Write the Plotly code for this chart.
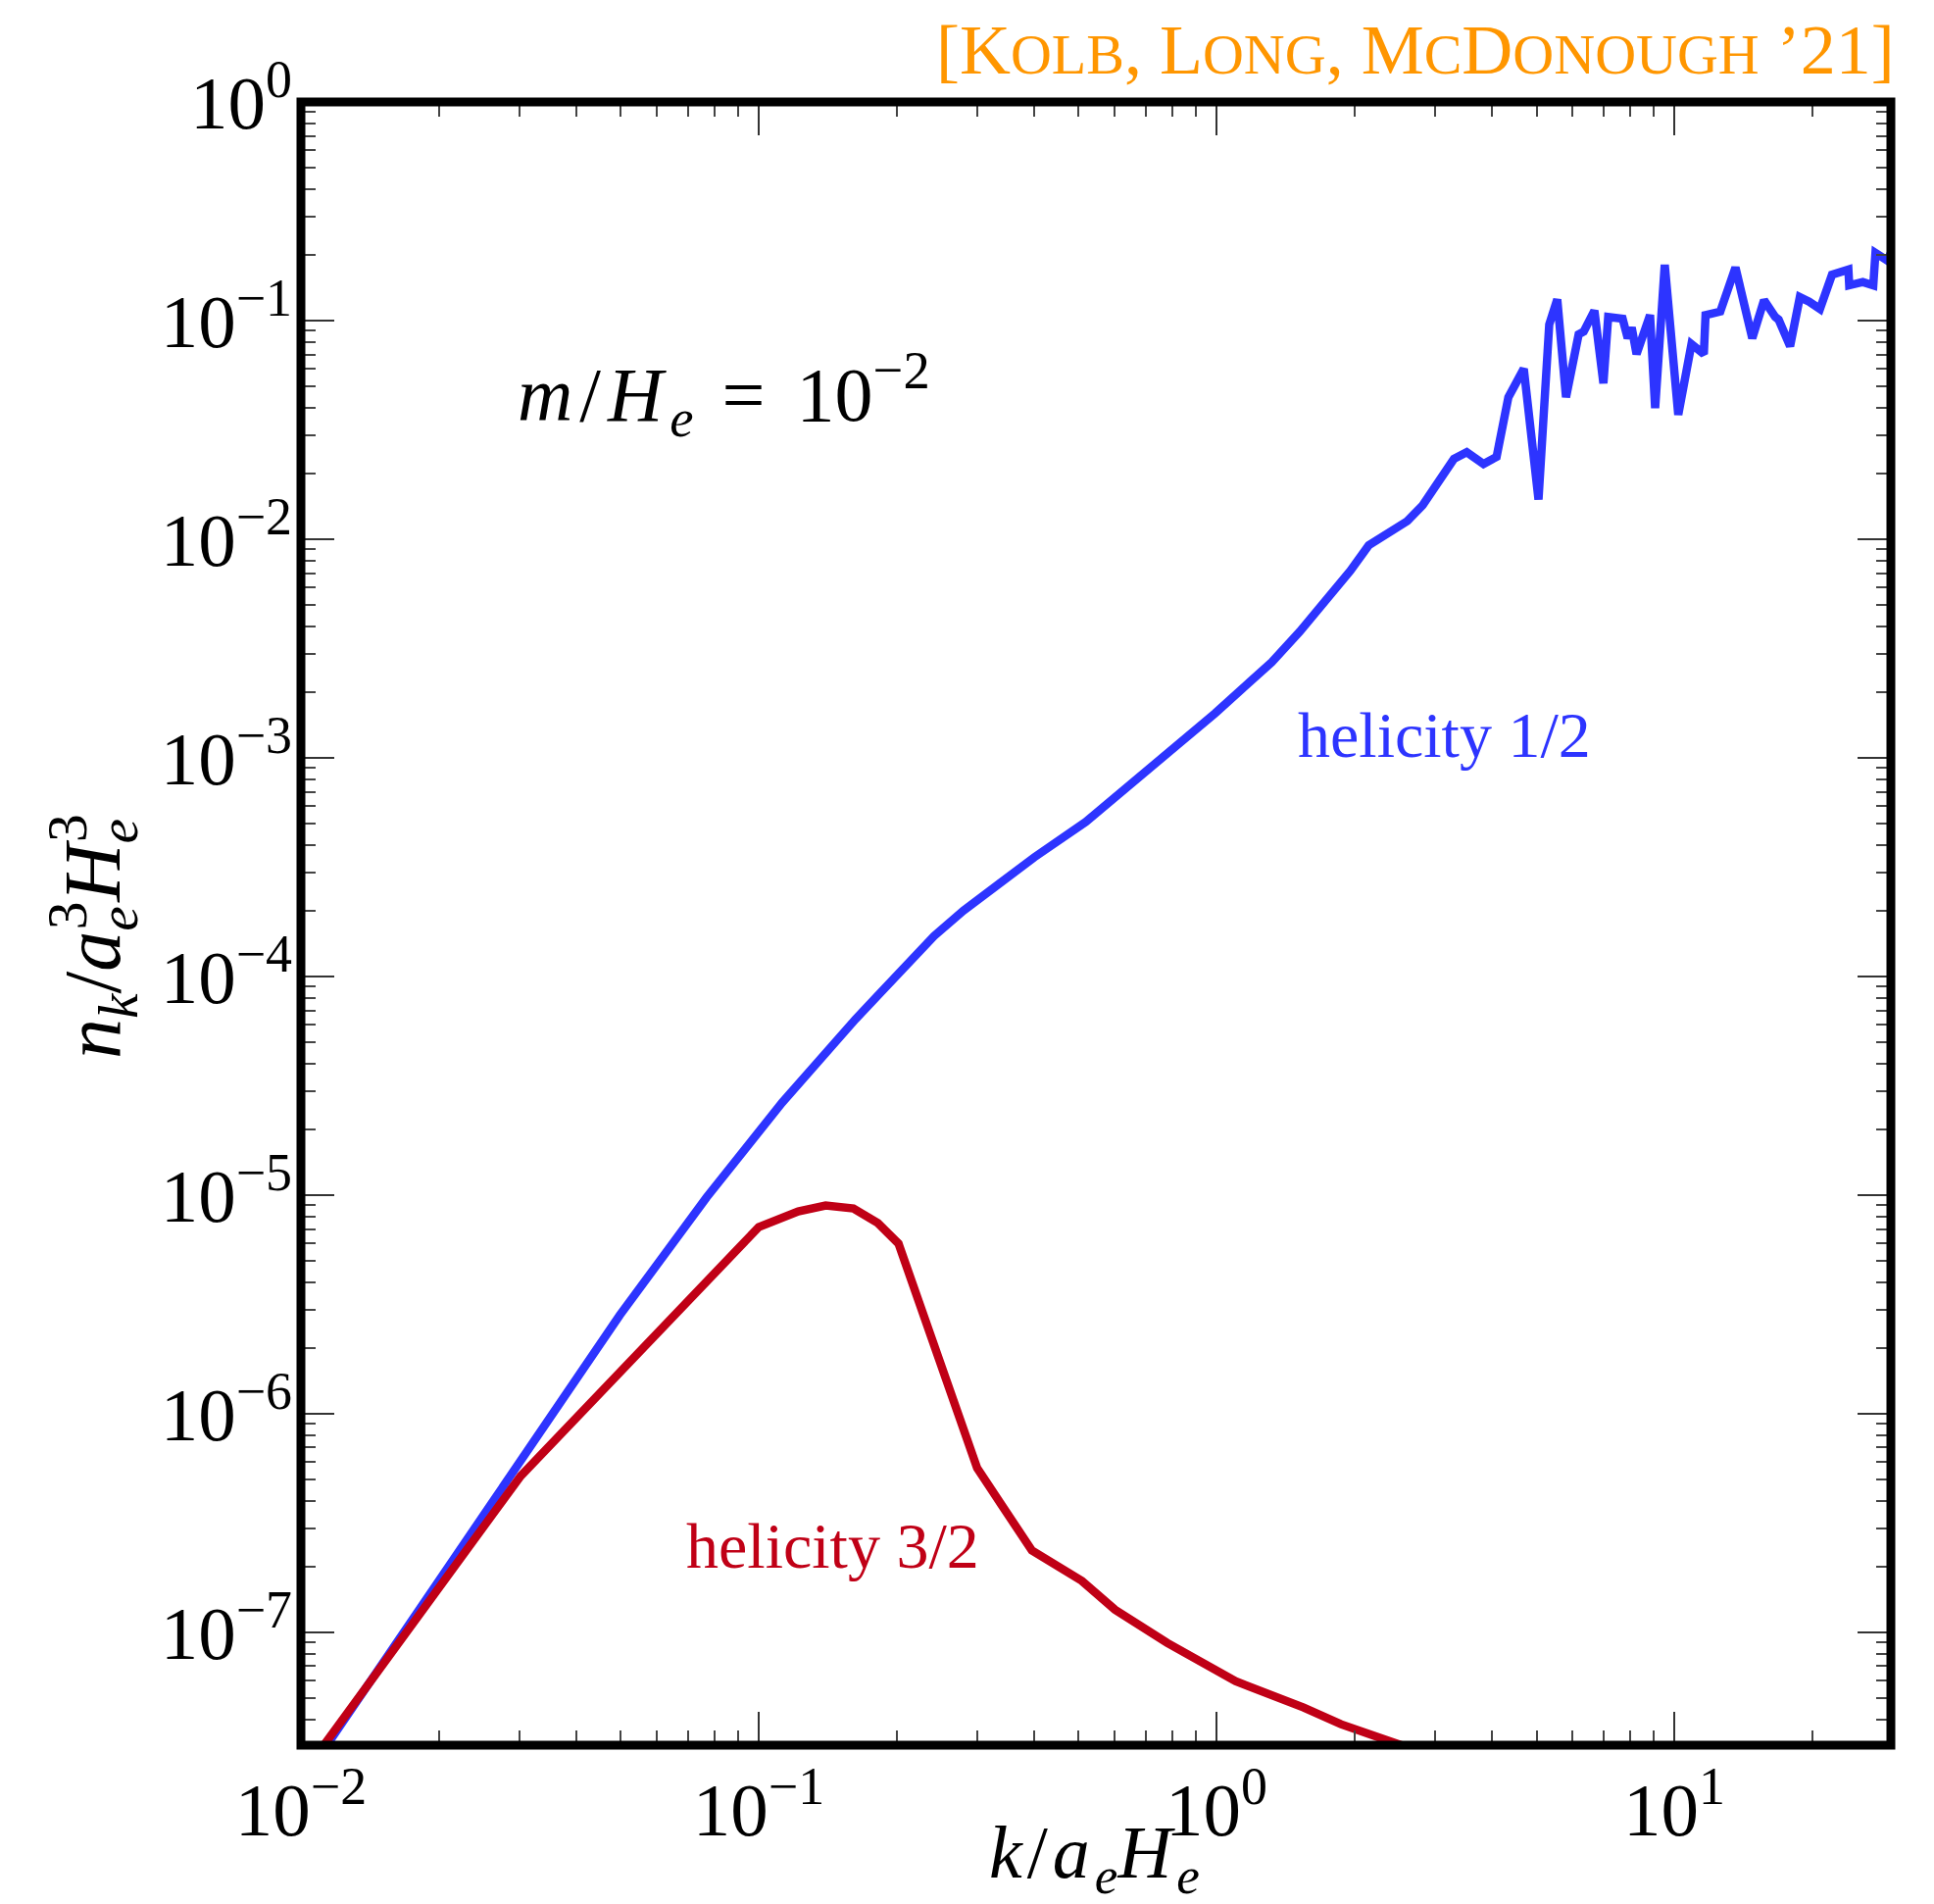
import plotly.graph_objects as go

# ---- data ----
k_h12 = [0.0100, 0.0283, 0.0497, 0.0769, 0.1125, 0.1627, 0.200, 0.2414, 0.280, 0.3213, 0.400, 0.518, 0.750,
         0.993, 1.32, 1.52, 1.96, 2.15, 2.61, 2.82, 3.30, 3.52, 3.83,
         4.09, 4.34, 4.69, 5.05, 5.33, 5.55, 5.80, 6.18, 6.34, 6.69,
         7.00, 7.17, 7.71, 7.91, 8.07, 8.27, 8.85, 9.08, 9.53, 10.2,
         10.9, 11.6, 11.7, 12.6, 13.6, 14.8, 15.7, 16.6, 16.9, 17.9,
         18.8, 19.7, 20.8, 22.1, 24.0, 24.1, 25.8, 27.2, 27.5, 29.2, 30.4]
n_h12 = [2.04e-8, 5.02e-7, 2.82e-6, 9.75e-6, 2.65e-5, 6.38e-5, 1.02e-4, 1.53e-4, 2.00e-4, 2.48e-4, 3.51e-4, 5.09e-4, 9.66e-4,
         1.60e-3, 2.74e-3, 3.78e-3, 7.17e-3, 9.38e-3, 1.21e-2, 1.43e-2, 2.33e-2, 2.50e-2, 2.21e-2,
         2.38e-2, 4.46e-2, 6.02e-2, 1.52e-2, 9.59e-2, 1.25e-1, 4.46e-2, 8.65e-2, 8.91e-2, 1.11e-1,
         5.16e-2, 1.04e-1, 1.02e-1, 8.30e-2, 9.29e-2, 7.03e-2, 1.06e-1, 3.98e-2, 1.80e-1, 3.71e-2,
         7.80e-2, 7.03e-2, 1.06e-1, 1.10e-1, 1.75e-1, 8.30e-2, 1.24e-1, 1.04e-1, 1.01e-1, 7.64e-2,
         1.28e-1, 1.22e-1, 1.13e-1, 1.62e-1, 1.71e-1, 1.45e-1, 1.50e-1, 1.45e-1, 2.04e-1, 1.88e-1, 2.26e-1]

k_h32 = [0.01, 0.0302, 0.100, 0.122, 0.140, 0.161, 0.182, 0.202, 0.300, 0.395,
         0.508, 0.600, 0.780, 0.890, 1.10, 1.55, 1.87, 2.55, 3.5]
n_h32 = [2.19e-8, 5.19e-7, 7.14e-6, 8.43e-6, 8.97e-6, 8.69e-6, 7.45e-6, 6.00e-6, 5.64e-7, 2.37e-7,
         1.72e-7, 1.27e-7, 8.95e-8, 7.67e-8, 5.98e-8, 4.53e-8, 3.80e-8, 3.03e-8, 2.30e-8]

x_tickvals = [0.01, 0.1, 1, 10]
x_ticktext = ["10<sup>−2</sup>", "10<sup>−1</sup>", "10<sup>0</sup>", "10<sup>1</sup>"]
y_tickvals = [1e-7, 1e-6, 1e-5, 1e-4, 1e-3, 1e-2, 1e-1, 1]
y_ticktext = ["10<sup>−7</sup>", "10<sup>−6</sup>", "10<sup>−5</sup>", "10<sup>−4</sup>",
              "10<sup>−3</sup>", "10<sup>−2</sup>", "10<sup>−1</sup>", "10<sup>0</sup>"]

BLUE = "rgb(45,52,255)"
RED = "rgb(192,0,22)"
ORANGE = "rgb(255,150,0)"
SERIF = "Liberation Serif"

x_minor = [m * 10.0 ** e for e in range(-2, 2) for m in range(2, 10)]
y_minor = [m * 10.0 ** e for e in range(-8, 0) for m in range(2, 10)]

fig = go.Figure()
fig.add_trace(go.Scatter(x=k_h12, y=n_h12, mode="lines",
                         line=dict(color=BLUE, width=8.5), showlegend=False))
fig.add_trace(go.Scatter(x=k_h32, y=n_h32, mode="lines",
                         line=dict(color=RED, width=8.5), showlegend=False))

axis_common = dict(
    type="log", showgrid=False, zeroline=False,
    showline=False, mirror="allticks",
    ticks="inside", ticklen=34, tickwidth=2, tickcolor="#333",
    tickfont=dict(family=SERIF, size=77, color="black"),
)

fig.update_xaxes(**axis_common, range=[-2, 1.473],
                 tickvals=x_tickvals, ticktext=x_ticktext, ticklabelstandoff=14,
                 minor=dict(tickvals=x_minor, ticks="inside", ticklen=15,
                            tickwidth=2, tickcolor="#444", showgrid=False))
fig.update_yaxes(**axis_common, range=[-7.516, 0],
                 tickvals=y_tickvals, ticktext=y_ticktext, ticklabelstandoff=8,
                 minor=dict(tickvals=y_minor, ticks="inside", ticklen=15,
                            tickwidth=2, tickcolor="#444", showgrid=False))

# frame centred on the plot-area edges (matplotlib style)
fig.add_shape(type="rect", xref="paper", yref="paper", x0=0, y0=0, x1=1, y1=1,
              line=dict(color="black", width=9), fillcolor="rgba(0,0,0,0)", layer="above")

sc = '<span style="font-size:58px">'
title = ("[K" + sc + "OLB</span>, L" + sc + "ONG</span>, M" + sc + "C</span>D"
         + sc + "ONOUGH</span> ’21]")

# stacked super/subscripts: the subscript gets negative letter-spacing so the
# superscript that follows sits right above it
stk = '<span style="letter-spacing:-24px"><i>e</i></span>'
ytitle = ("<i>n</i><sub><i>k</i></sub>/<i>a</i><sub>" + stk + "</sub><sup>3</sup>"
          "<i>H</i><sub>" + stk + "</sub><sup>3</sup>")

mlabel = ('<span style="letter-spacing:7px"><i>m</i>/<i>H</i></span><sub><i>e</i></sub>'
          '<span style="letter-spacing:3px">&#8196;=&#8196;</span>10<sup>−2</sup>')

xtitle = ('<span style="letter-spacing:5px"><i>k</i>/<i>a</i></span><sub><i>e</i></sub>'
          '<span style="letter-spacing:5px"><i>H</i></span><sub><i>e</i></sub>')

annotations = [
    dict(text=title, x=1.0037, y=1.0567, xref="paper", yref="paper",
         xanchor="right", yanchor="top", showarrow=False,
         font=dict(family=SERIF, size=72, color=ORANGE)),
    dict(text=xtitle,
         x=0.4988, y=-0.0686, xref="paper", yref="paper",
         xanchor="center", yanchor="middle", showarrow=False,
         font=dict(family=SERIF, size=76, color="black")),
    dict(text=ytitle,
         x=-0.1313, y=0.4922, xref="paper", yref="paper", textangle=-90,
         xanchor="center", yanchor="middle", showarrow=False,
         font=dict(family=SERIF, size=82, color="black")),
    dict(text=mlabel,
         x=0.135, y=0.8222, xref="paper", yref="paper",
         xanchor="left", yanchor="middle", showarrow=False,
         font=dict(family=SERIF, size=78, color="black")),
    dict(text="helicity 1/2", x=0.7189, y=0.6146, xref="paper", yref="paper",
         xanchor="center", yanchor="middle", showarrow=False,
         font=dict(family=SERIF, size=66, color=BLUE)),
    dict(text="helicity 3/2", x=0.3342, y=0.1217, xref="paper", yref="paper",
         xanchor="center", yanchor="middle", showarrow=False,
         font=dict(family=SERIF, size=66, color=RED)),
]

fig.update_layout(
    width=1973, height=1942, autosize=False,
    margin=dict(l=299, r=52, t=96, b=170, pad=0),
    paper_bgcolor="white", plot_bgcolor="white",
    annotations=annotations,
)

fig.write_html("out.html")
